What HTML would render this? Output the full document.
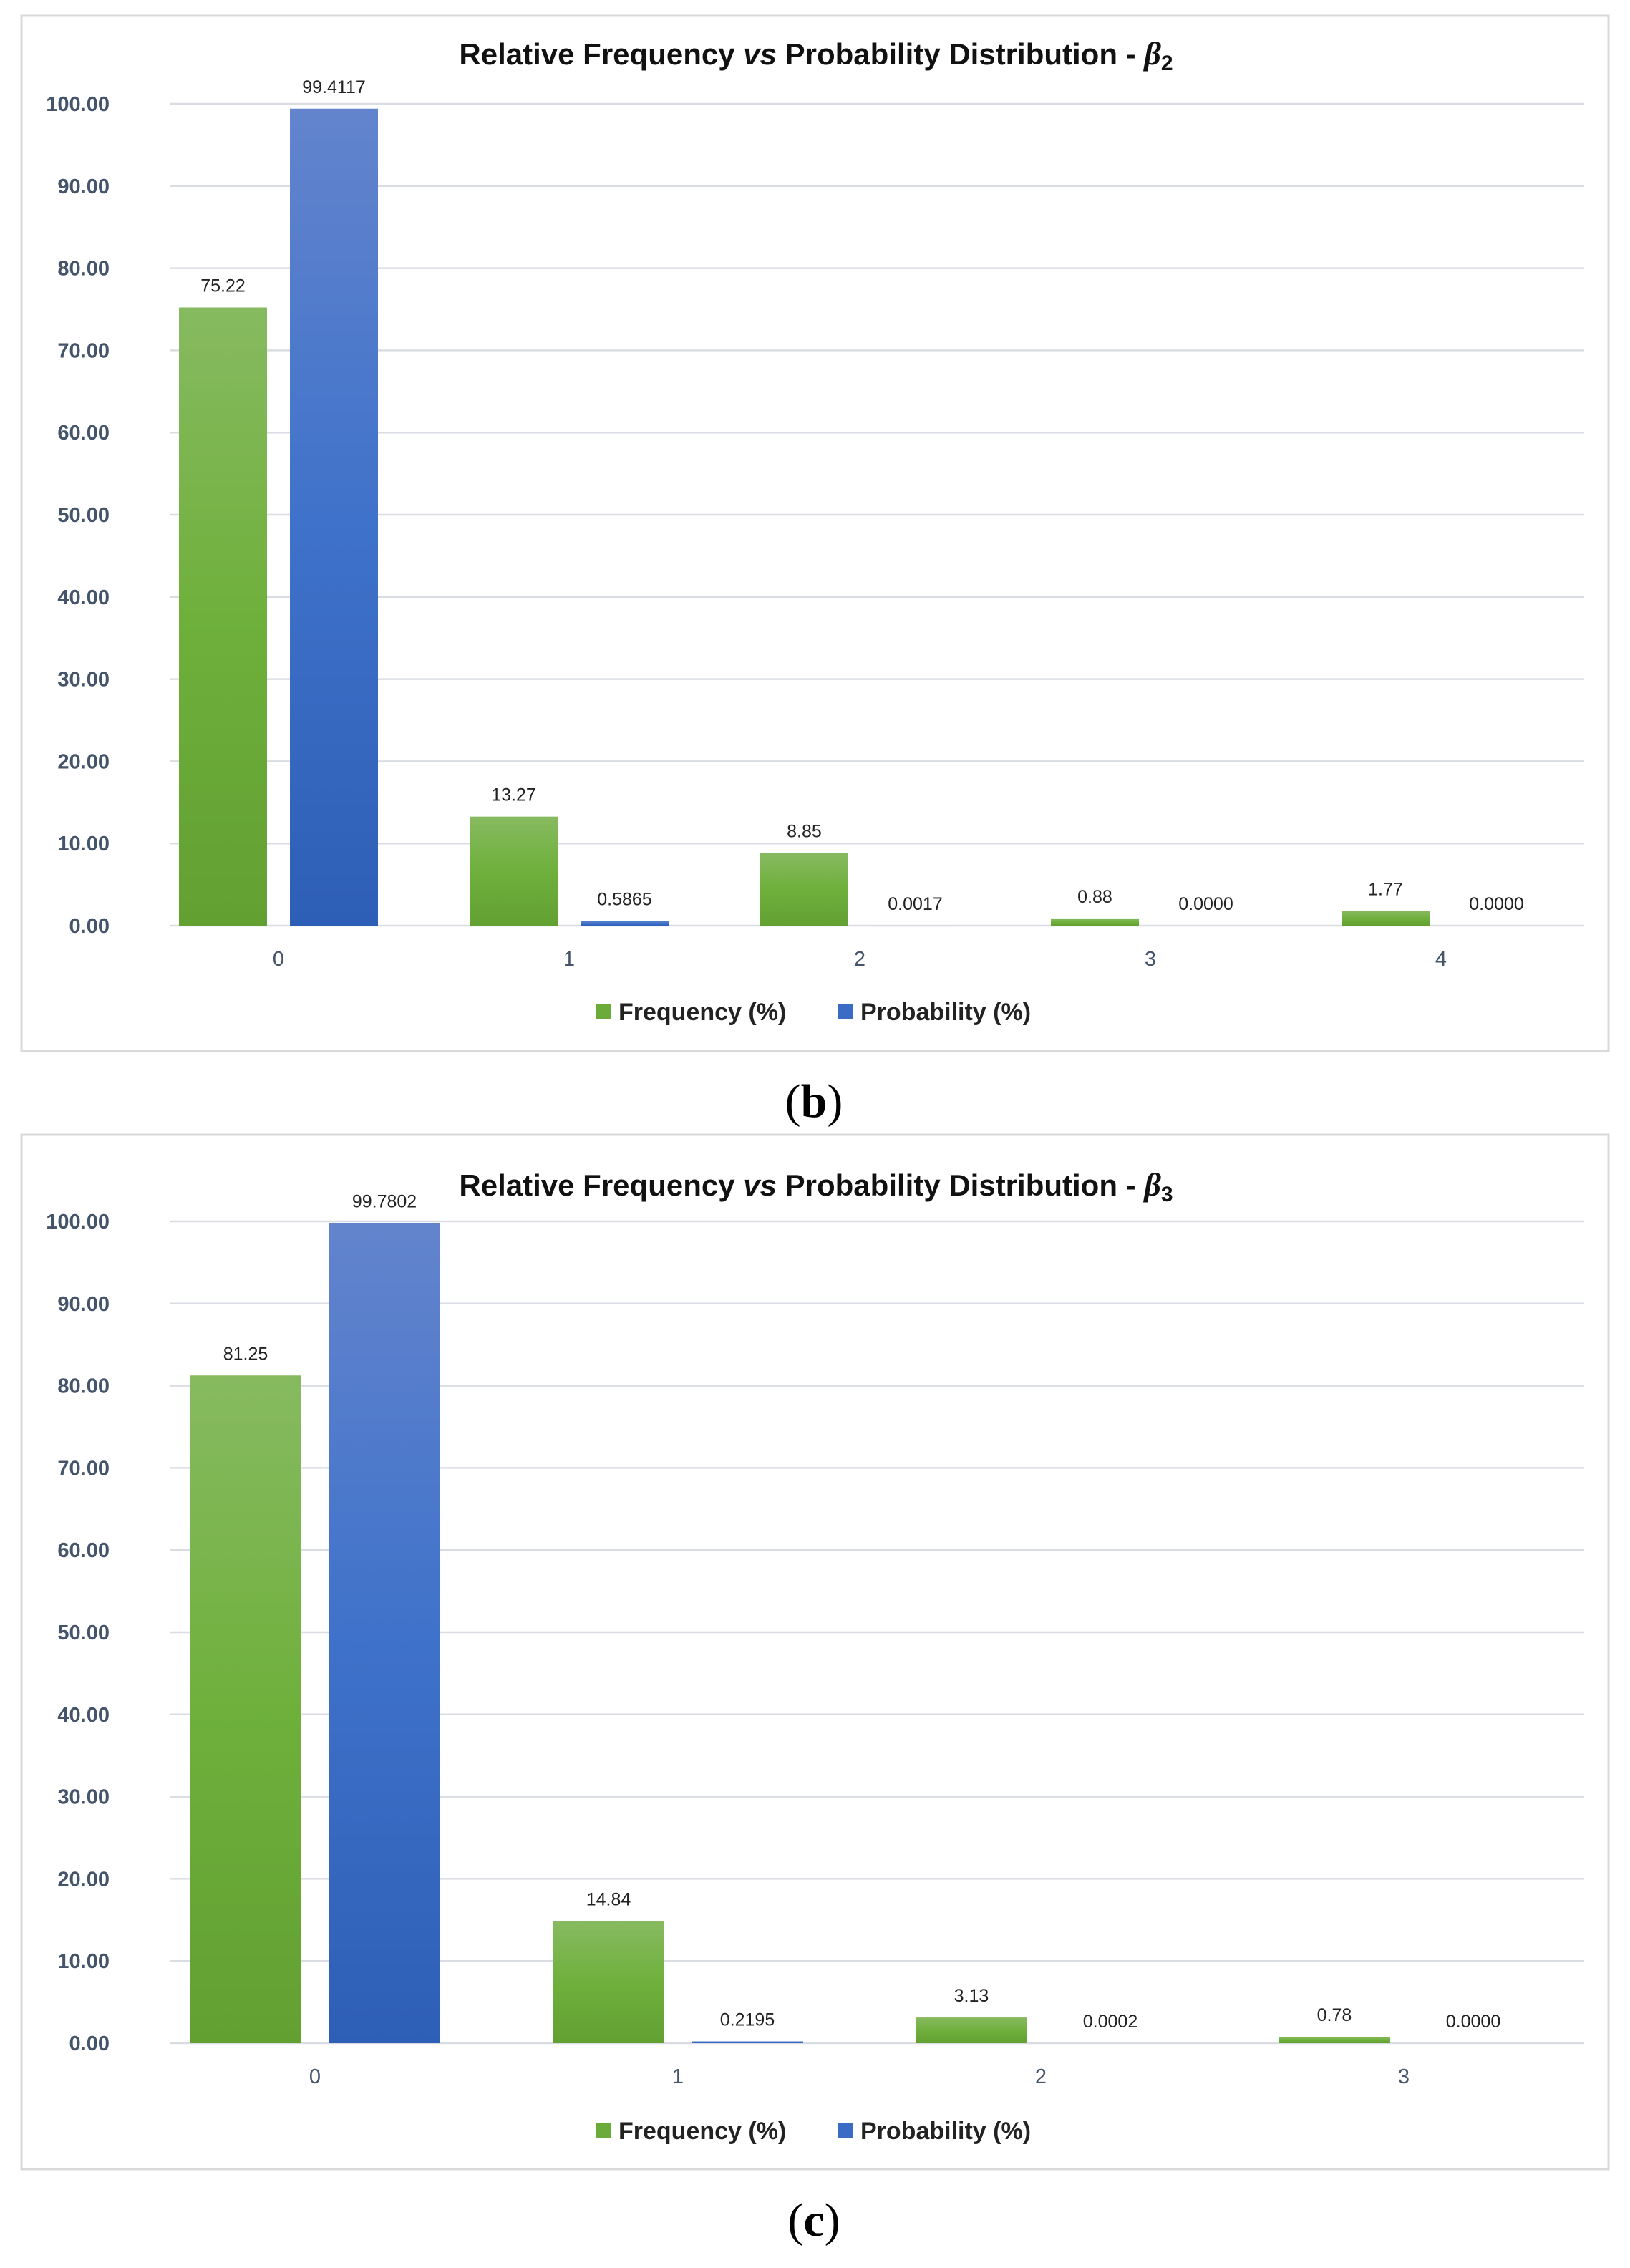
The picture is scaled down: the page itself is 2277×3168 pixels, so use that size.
<!DOCTYPE html>
<html><head><meta charset="utf-8"><style>
html,body{margin:0;padding:0;background:#fff;width:2277px;height:3168px;overflow:hidden}
svg{display:block;font-family:"Liberation Sans",sans-serif}
</style></head><body>
<svg id="svg" width="2277" height="3168" viewBox="0 0 2277 3168" xmlns="http://www.w3.org/2000/svg">
<defs>
<linearGradient id="gG" x1="0" y1="0" x2="0" y2="1"><stop offset="0" stop-color="#87ba60"/><stop offset="0.5" stop-color="#6fb03c"/><stop offset="1" stop-color="#62a032"/></linearGradient>
<linearGradient id="gB" x1="0" y1="0" x2="0" y2="1"><stop offset="0" stop-color="#6384cd"/><stop offset="0.5" stop-color="#3f72ca"/><stop offset="1" stop-color="#2e5fb7"/></linearGradient>
</defs>
</svg>
<script>
const catsB=["0","1","2","3","4"];
const freqB=[75.22,13.27,8.85,0.88,1.77];
const probB=[99.4117,0.5865,0.0017,0.0000,0.0000];
const freqLblB=["75.22","13.27","8.85","0.88","1.77"];
const probLblB=["99.4117","0.5865","0.0017","0.0000","0.0000"];
const catsC=["0","1","2","3"];
const freqC=[81.25,14.84,3.13,0.78];
const probC=[99.7802,0.2195,0.0002,0.0000];
const freqLblC=["81.25","14.84","3.13","0.78"];
const probLblC=["99.7802","0.2195","0.0002","0.0000"];
const yTicks=[0,10,20,30,40,50,60,70,80,90,100];
const yTickLbl=["0.00","10.00","20.00","30.00","40.00","50.00","60.00","70.00","80.00","90.00","100.00"];

const svg=document.getElementById('svg');
const NS='http://www.w3.org/2000/svg';
function mk(tag,attrs,text,parent){const e=document.createElementNS(NS,tag);for(const k in attrs)e.setAttribute(k,attrs[k]);if(text!=null)e.textContent=text;(parent||svg).appendChild(e);return e;}

function chart(cfg){
  const g=mk('g',{});
  
  
  const b=mk('rect',{x:30,y:cfg.top,width:2217,height:cfg.bottom-cfg.top,fill:'#fff',stroke:'#d9d9d9','stroke-width':3},null,g);
  
  
  const t=mk('text',{x:1140,y:cfg.titleY,'text-anchor':'middle','font-size':42,'font-weight':'bold',fill:'#111'},null,g);
  
  
  mk('tspan',{},'Relative Frequency ',t);
  mk('tspan',{'font-style':'italic'},'vs',t);
  mk('tspan',{},' Probability Distribution - ',t);
  mk('tspan',{'font-style':'italic','font-family':'"Liberation Serif",serif','font-size':46},'β',t);
  mk('tspan',{'font-size':30,dy:8},cfg.sub,t);
  const x0=238,x1=2213;
  const y=v=>cfg.y0-(v/100)*(cfg.y0-cfg.y100);
  const xc=i=>cfg.c0+cfg.step*i;
  yTicks.forEach((v,i)=>{
    const l=mk('line',{x1:x0,x2:x1,y1:y(v),y2:y(v),stroke:'#d9dde3','stroke-width':2.5},null,g);
    
    
    const tx=mk('text',{x:153,y:y(v)+10,'text-anchor':'end','font-size':29,'font-weight':'bold',fill:'#44546a'},yTickLbl[i],g);
    
    
  });
  cfg.cats.forEach((c,i)=>{
    const cx=xc(i);
    const gx=cx-cfg.gap/2-cfg.bw, bx=cx+cfg.gap/2;
    const fy=y(cfg.freq[i]), py=y(cfg.prob[i]);
    const r1=mk('rect',{x:gx,y:fy,width:cfg.bw,height:cfg.y0-fy,fill:'url(#gG)'},null,g);
    
    
    const r2=mk('rect',{x:bx,y:py,width:cfg.bw,height:Math.max(0,cfg.y0-py),fill:'url(#gB)'},null,g);
    
    
    const l1=mk('text',{x:gx+cfg.bw/2,y:fy-22,'text-anchor':'middle','font-size':25,fill:'#222'},cfg.fl[i],g);
    
    
    const l2=mk('text',{x:bx+cfg.bw/2,y:py-22,'text-anchor':'middle','font-size':25,fill:'#222'},cfg.pl[i],g);
    
    
    const xl=mk('text',{x:cx,y:cfg.y0+56,'text-anchor':'middle','font-size':29,fill:'#44546a'},c,g);
    
    
  });
  const ly=cfg.legY;
  const s1=mk('rect',{x:832,y:ly-12,width:22,height:22,fill:'#6bab3a'},null,g);
  
  
  const t1=mk('text',{x:864,y:ly+11,'font-size':34,'font-weight':'bold',fill:'#222'},'Frequency (%)',g);
  
  
  const s2=mk('rect',{x:1170,y:ly-12,width:22,height:22,fill:'#3a6cc6'},null,g);
  
  
  const t2=mk('text',{x:1202,y:ly+11,'font-size':34,'font-weight':'bold',fill:'#222'},'Probability (%)',g);
  
  
  const cap=mk('text',{x:1137,y:cfg.capY,'text-anchor':'middle','font-size':66,'font-family':'"Liberation Serif",serif',fill:'#000'},null,g);
  
  
  mk('tspan',{},'(',cap);mk('tspan',{'font-weight':'bold'},cfg.cap,cap);mk('tspan',{},')',cap);
}
chart({name:'chart-beta2',top:22,bottom:1468,titleY:90,sub:'2',y100:145,y0:1293,c0:389,step:406,cats:catsB,freq:freqB,prob:probB,fl:freqLblB,pl:probLblB,bw:123,gap:32,legY:1414,capY:1560,cap:'b'});
chart({name:'chart-beta3',top:1585,bottom:3030,titleY:1670,sub:'3',y100:1706,y0:2854,c0:440,step:507,cats:catsC,freq:freqC,prob:probC,fl:freqLblC,pl:probLblC,bw:156,gap:38,legY:2977,capY:3123,cap:'c'});
</script>
</body></html>
